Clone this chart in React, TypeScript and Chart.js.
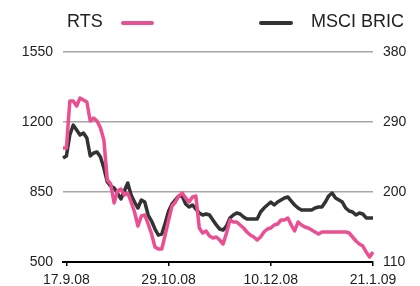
import React, { useEffect, useRef } from "react";
import { Chart, registerables } from "chart.js";

Chart.register(...registerables);

const CATEGORIES: string[] = [
  "16.9.08", "17.9.08", "18.9.08", "19.9.08", "22.9.08", "23.9.08", "24.9.08", "25.9.08", "26.9.08", "29.9.08", "30.9.08",
  "1.10.08", "2.10.08", "3.10.08", "6.10.08", "7.10.08", "8.10.08", "9.10.08", "10.10.08", "13.10.08", "14.10.08", "15.10.08",
  "16.10.08", "17.10.08", "20.10.08", "21.10.08", "22.10.08", "23.10.08", "24.10.08", "27.10.08", "28.10.08", "29.10.08",
  "30.10.08", "31.10.08",
  "3.11.08", "4.11.08", "5.11.08", "6.11.08", "7.11.08", "10.11.08", "11.11.08", "12.11.08", "13.11.08", "14.11.08",
  "17.11.08", "18.11.08", "19.11.08", "20.11.08", "21.11.08", "24.11.08", "25.11.08", "26.11.08", "27.11.08", "28.11.08",
  "1.12.08", "2.12.08", "3.12.08", "4.12.08", "5.12.08", "8.12.08", "9.12.08", "10.12.08", "11.12.08", "12.12.08",
  "15.12.08", "16.12.08", "17.12.08", "18.12.08", "19.12.08", "22.12.08", "23.12.08", "24.12.08", "25.12.08", "26.12.08",
  "29.12.08", "30.12.08", "31.12.08",
  "1.1.09", "2.1.09", "5.1.09", "6.1.09", "7.1.09", "8.1.09", "9.1.09", "12.1.09", "13.1.09", "14.1.09", "15.1.09",
  "16.1.09", "19.1.09", "20.1.09", "21.1.09",
];

const TICK_LABELS: string[] = ["17.9.08", "29.10.08", "10.12.08", "21.1.09"];

const RTS: number[] = [
  1070, 1070, 1305, 1305, 1280, 1320, 1310, 1300, 1205, 1220,
  1205, 1170, 1110, 910, 890, 795, 855, 865, 835, 845,
  800, 750, 680, 730, 735, 690, 640, 575, 565, 565,
  635, 710, 780, 800, 830, 845, 820, 800, 825, 830,
  670, 645, 655, 630, 620, 625, 610, 590, 645, 710,
  700, 700, 685, 670, 650, 635, 625, 610, 625, 650,
  665, 670, 685, 690, 710, 710, 720, 685, 655, 700,
  685, 675, 670, 660, 650, 640, 650, 650, 650, 650,
  650, 650, 650, 650, 645, 625, 605, 590, 580, 550,
  525, 550,
];

const MSCI_BRIC: number[] = [
  243.7, 246.3, 273.3, 286.1, 279.7, 273.3, 275.9, 269.4, 246.3, 250.1,
  251.4, 245.0, 230.9, 212.9, 207.7, 205.1, 198.7, 191.0, 201.3, 211.6,
  196.1, 187.1, 179.4, 189.7, 187.1, 170.4, 162.7, 152.4, 144.7, 146.0,
  160.1, 175.6, 184.6, 189.7, 194.9, 194.9, 184.6, 180.7, 183.3, 178.1,
  173.0, 170.4, 171.7, 170.4, 164.0, 157.6, 152.4, 151.1, 156.3, 166.6,
  170.4, 173.0, 171.7, 167.9, 165.3, 165.3, 165.3, 165.3, 174.3, 179.4,
  183.3, 187.1, 183.3, 187.1, 189.7, 192.3, 193.6, 188.4, 183.3, 179.4,
  176.9, 176.9, 176.9, 176.9, 179.4, 180.7, 180.7, 187.1, 194.9, 198.7,
  192.3, 189.7, 187.1, 179.4, 175.6, 174.3, 170.4, 173.0, 171.7, 166.6,
  166.6, 166.6,
];

const LEFT_TICKS: number[] = [500, 850, 1200, 1550];
const RIGHT_TICKS: number[] = [110, 200, 290, 380];

const PINK = "#ec4f91";
const DARK = "#333333";
const FONT = "'Liberation Sans', Arial, sans-serif";
const TEXT = "#222";

const legendPlugin = {
  id: "customLegend",
  afterDraw(chart: any) {
    const ctx = chart.ctx;
    const ds = chart.data.datasets;
    ctx.save();
    ctx.font = `18px ${FONT}`;
    ctx.textBaseline = "middle";
    ctx.fillStyle = TEXT;
    ctx.lineWidth = 4;
    ctx.lineCap = "round";
    ctx.textAlign = "left";
    ctx.fillText(ds[0].label, 67, 22);
    ctx.strokeStyle = ds[0].borderColor;
    ctx.beginPath();
    ctx.moveTo(123, 23);
    ctx.lineTo(152, 23);
    ctx.stroke();
    ctx.strokeStyle = ds[1].borderColor;
    ctx.beginPath();
    ctx.moveTo(261, 23);
    ctx.lineTo(291, 23);
    ctx.stroke();
    ctx.textAlign = "right";
    ctx.fillText(ds[1].label, 404, 22);
    ctx.restore();
  },
};

export default function App() {
  const ref = useRef<HTMLCanvasElement | null>(null);

  useEffect(() => {
    if (!ref.current) return;
    const chart = new Chart(ref.current, {
      type: "line",
      data: {
        labels: CATEGORIES,
        datasets: [
          {
            label: "RTS",
            data: RTS,
            borderColor: PINK,
            borderWidth: 3.5,
            pointRadius: 0,
            tension: 0,
            yAxisID: "y",
            borderJoinStyle: "round",
          },
          {
            label: "MSCI BRIC",
            data: MSCI_BRIC,
            borderColor: DARK,
            borderWidth: 3.5,
            pointRadius: 0,
            tension: 0,
            yAxisID: "y1",
            borderJoinStyle: "round",
          },
        ],
      },
      options: {
        responsive: false,
        animation: false,
        layout: { padding: { top: 52, left: 0, right: 0, bottom: 0 } },
        plugins: { legend: { display: false }, tooltip: { enabled: false } },
        scales: {
          x: {
            type: "category",
            offset: false,
            afterFit: (s: any) => { s.height = 24; },
            grid: {
              drawOnChartArea: false,
              drawTicks: true,
              tickLength: 4,
              lineWidth: 1.5,
              color: (c: any) => (TICK_LABELS.includes(CATEGORIES[c.index]) ? "#000" : "rgba(0,0,0,0)"),
            },
            border: { display: true, color: "#000", width: 2 },
            ticks: {
              autoSkip: false,
              maxRotation: 0,
              minRotation: 0,
              padding: 6,
              color: TEXT,
              font: { family: FONT, size: 14 },
              callback: (_v: any, i: number) => (TICK_LABELS.includes(CATEGORIES[i]) ? CATEGORIES[i] : ""),
            },
          },
          y: {
            position: "left",
            min: LEFT_TICKS[0],
            max: LEFT_TICKS[LEFT_TICKS.length - 1],
            afterFit: (s: any) => { s.width = 63; },
            afterBuildTicks: (s: any) => { s.ticks = LEFT_TICKS.map((v) => ({ value: v })); },
            grid: {
              drawTicks: false,
              lineWidth: 1.5,
              color: (c: any) => (c.tick && c.tick.value === LEFT_TICKS[0] ? "rgba(0,0,0,0)" : "#a6a6a6"),
            },
            border: { display: false },
            ticks: {
              padding: 10,
              color: TEXT,
              font: { family: FONT, size: 14 },
              callback: (v: any) => String(v),
            },
          },
          y1: {
            position: "right",
            min: RIGHT_TICKS[0],
            max: RIGHT_TICKS[RIGHT_TICKS.length - 1],
            afterFit: (s: any) => { s.width = 47; },
            afterBuildTicks: (s: any) => { s.ticks = RIGHT_TICKS.map((v) => ({ value: v })); },
            grid: { drawOnChartArea: false, drawTicks: false },
            border: { display: false },
            ticks: {
              padding: 10,
              color: TEXT,
              font: { family: FONT, size: 14 },
              callback: (v: any) => String(v),
            },
          },
        },
      },
      plugins: [legendPlugin],
    } as any);
    return () => chart.destroy();
  }, []);

  return (
    <div style={{ position: "fixed", left: 0, top: 0, width: 420, height: 286, background: "#fff" }}>
      <canvas ref={ref} width={420} height={286} />
    </div>
  );
}
